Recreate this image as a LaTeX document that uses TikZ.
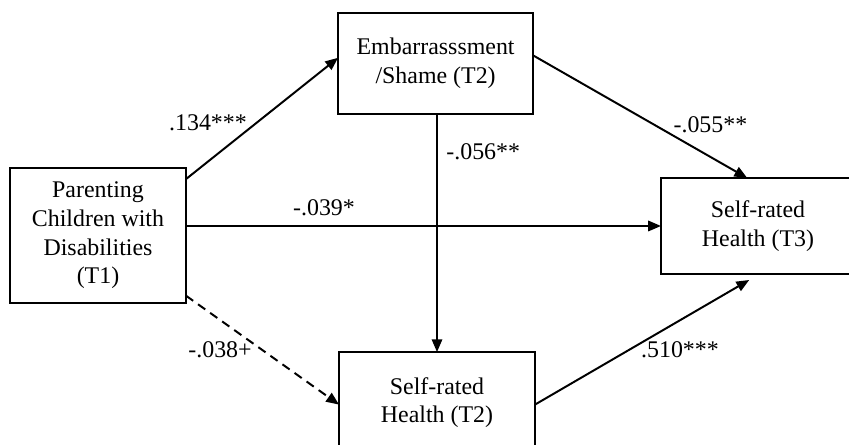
\documentclass[tikz,border=0pt]{standalone}
\usepackage{fontspec}
\setmainfont{Liberation Serif}
\usetikzlibrary{arrows.meta}

\begin{document}
\begin{tikzpicture}[
    varbox/.style={draw, line width=1.2pt, align=center, inner sep=0pt,
      outer sep=0pt, font=\fontsize{17}{20.5}\selectfont},
    effect/.style={line width=1.4pt, -{Triangle[length=0.32cm,width=0.26cm]}},
    coef/.style={font=\fontsize{17}{20}\selectfont}
  ]
    \useasboundingbox (0,0) rectangle (21.225,11.125);
    \clip (0,0) rectangle (21.225,11.125);

    %%%%%%%%%%%%%%%%%%%%%%%%%%%%%%%%%%%%%%%%%%%%%%
    % Variables
    %%%%%%%%%%%%%%%%%%%%%%%%%%%%%%%%%%%%%%%%%%%%%%
    \node[varbox, minimum width=4.4cm, minimum height=3.375cm] (t1) at (2.45,5.24)
      {Parenting\\Children with\\Disabilities\\(T1)};
    \node[varbox, minimum width=4.875cm, minimum height=2.525cm] (emb) at (10.89,9.54)
      {Embarrasssment\\/Shame (T2)};
    \node[varbox, minimum width=4.85cm, minimum height=2.4cm] (t3) at (18.95,5.475)
      {Self-rated\\Health (T3)};
    \node[varbox, minimum width=4.9cm, minimum height=2.525cm] (ht2) at (10.925,1.06)
      {Self-rated\\Health (T2)};

    %%%%%%%%%%%%%%%%%%%%%%%%%%%%%%%%%%%%%%%%%%%%%%
    % Paths with coefficients
    %%%%%%%%%%%%%%%%%%%%%%%%%%%%%%%%%%%%%%%%%%%%%%
    \draw[effect] ([yshift=-0.28cm]t1.north east) -- ([yshift=0.14cm]emb.west);
    \node[coef] (c1) at (5.2,8.05) {.134***};

    \draw[effect] (t1.east |- t3.west) -- (t3.west);
    \node[coef] (c2) at (8.1,5.93) {-.039*};

    \draw[effect, dash pattern=on 0.22cm off 0.15cm]
      ([yshift=0.18cm]t1.south east) -- ([yshift=-0.05cm]ht2.west);
    \node[coef] (c3) at (5.5,2.38) {-.038+};

    \draw[effect] (emb.south -| ht2.north) -- (ht2.north);
    \node[coef] (c4) at (12.08,7.33) {-.056**};

    \draw[effect] ([yshift=0.2cm]emb.east) -- ([xshift=-0.27cm]t3.north);
    \node[coef] (c5) at (17.76,8.0) {-.055**};

    \draw[effect] ([yshift=-0.05cm]ht2.east) -- ([xshift=-0.22cm,yshift=-0.15cm]t3.south);
    \node[coef] (c6) at (17.0,2.38) {.510***};
  \end{tikzpicture}
\end{document}
